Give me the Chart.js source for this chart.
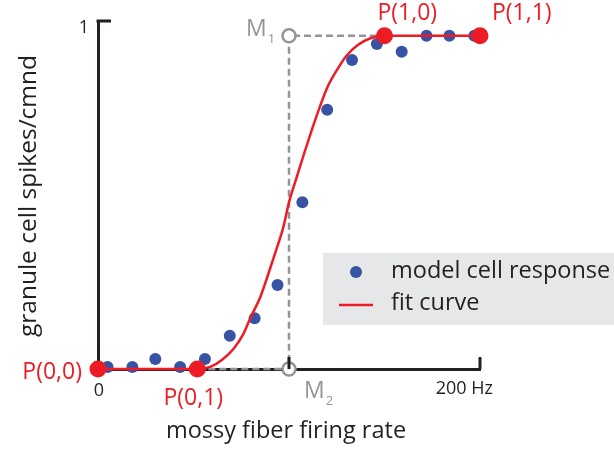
<!DOCTYPE html>
<html>
<head>
<meta charset="utf-8">
<script src="https://cdn.jsdelivr.net/npm/chart.js@4"></script>
<style>
  html, body { margin: 0; padding: 0; background: #ffffff; }
  #wrap { width: 614px; height: 451px; }
</style>
</head>
<body>
<div id="wrap"><canvas id="grafico" width="614" height="451"></canvas></div>
<script>
// dados (Hz, spikes/cmnd)
const rateHz = [5, 18, 30, 43, 56, 69, 82, 94, 107, 120, 133, 146, 159, 172, 184, 197];
const cellResponse = [0.006, 0.006, 0.03, 0.006, 0.03, 0.10, 0.152, 0.252, 0.50, 0.778, 0.927, 0.975, 0.952, 1, 1, 1];

const fitHz = [0, 52, 59, 65, 71, 76, 80, 85, 89, 93, 97, 100, 104, 108, 112, 116, 120, 125, 130, 136, 143, 150, 200];
const fitValue = [0, 0, 0.007, 0.028, 0.061, 0.104, 0.156, 0.216, 0.282, 0.352, 0.425, 0.5, 0.575, 0.648, 0.718, 0.784, 0.844, 0.896, 0.939, 0.972, 0.993, 1, 1];

const ctrlHz = [0, 52, 150, 200];
const ctrlValue = [0, 0, 1, 1];
const ctrlLabels = ["P(0,0)", "P(0,1)", "P(1,0)", "P(1,1)"];

const guideHz = [52, 100, 100, 150];
const guideValue = [0, 0, 1, 1];

const markHz = [100, 100];
const markValue = [1, 0];
const markLabels = ["M", "M"];
const markSubs = ["1", "2"];

const xTickValues = [0, 200];
const xTickLabels = ["0", "200 Hz"];
const xInnerTicks = [100, 200];
const yTickLabels = ["1"];
const yMax = 1.044;

const seriesNames = ["model cell response", "fit curve"];
const xTitle = "mossy fiber firing rate";
const yTitle = "granule cell spikes/cmnd";

const RED = "#ed1c24";
const BLUE = "#3953a4";
const GRAY = "#939598";
const INK = "#231f20";
const FONT = "'Open Sans', sans-serif";

const pts = (xs, ys) => xs.map((x, i) => ({ x: x, y: ys[i] }));

// desenha rótulos, ticks internos, títulos e a legenda
const decor = {
  id: "decor",
  afterDraw(chart) {
    const ctx = chart.ctx;
    const xs = chart.scales.x;
    const ys = chart.scales.y;
    ctx.save();

    // ticks internos
    ctx.strokeStyle = INK;
    ctx.lineWidth = 3;
    ctx.beginPath();
    xInnerTicks.forEach((v) => {
      const px = xs.getPixelForValue(v);
      ctx.moveTo(px, ys.bottom);
      ctx.lineTo(px, ys.bottom - 12);
    });
    ctx.moveTo(xs.left - 1.5, ys.top);
    ctx.lineTo(xs.left + 13, ys.top);
    ctx.stroke();

    // rótulos dos ticks
    ctx.fillStyle = INK;
    ctx.font = "18px " + FONT;
    ctx.textBaseline = "middle";
    ctx.textAlign = "center";
    ctx.fillText(xTickLabels[0], xs.getPixelForValue(xTickValues[0]) + 1, ys.bottom + 22);
    ctx.textAlign = "right";
    ctx.fillText(xTickLabels[1], xs.getPixelForValue(xTickValues[1]) + 13, ys.bottom + 20);
    ctx.fillText(yTickLabels[0], xs.left - 9, ys.top + 7);

    // títulos dos eixos
    ctx.font = "23.5px " + FONT;
    ctx.textAlign = "center";
    ctx.fillText(xTitle, 286, 431);
    ctx.save();
    ctx.translate(29, 196);
    ctx.rotate(-Math.PI / 2);
    ctx.font = "24.5px " + FONT;
    ctx.fillText(yTitle, 0, 0);
    ctx.restore();

    // rótulos P(i,j)
    const metaP = chart.getDatasetMeta(0);
    const pOff = [[-16, 3, "right"], [-4, 29, "center"], [-7, -22, "left"], [12, -22, "left"]];
    ctx.fillStyle = RED;
    ctx.font = "23px " + FONT;
    metaP.data.forEach((el, i) => {
      ctx.textAlign = pOff[i][2];
      ctx.fillText(ctrlLabels[i], el.x + pOff[i][0], el.y + pOff[i][1]);
    });

    // rótulos M
    const metaM = chart.getDatasetMeta(1);
    const mOff = [[-43, -6], [15, 22]];
    ctx.fillStyle = GRAY;
    metaM.data.forEach((el, i) => {
      ctx.textAlign = "left";
      ctx.font = "23px " + FONT;
      const mx = el.x + mOff[i][0];
      const my = el.y + mOff[i][1];
      ctx.fillText(markLabels[i], mx, my);
      const w = ctx.measureText(markLabels[i]).width;
      ctx.font = "13px " + FONT;
      ctx.fillText(markSubs[i], mx + w + 1, my + 10);
    });

    // legenda
    ctx.fillStyle = "#e6e7e8";
    ctx.fillRect(323, 253, 291, 72);
    ctx.fillStyle = BLUE;
    ctx.beginPath();
    ctx.arc(356, 272, 6, 0, Math.PI * 2);
    ctx.fill();
    ctx.strokeStyle = RED;
    ctx.lineWidth = 2.5;
    ctx.beginPath();
    ctx.moveTo(339, 305);
    ctx.lineTo(373, 305);
    ctx.stroke();
    ctx.fillStyle = INK;
    ctx.font = "23.5px " + FONT;
    ctx.textAlign = "left";
    ctx.fillText(seriesNames[0], 391, 271);
    ctx.fillText(seriesNames[1], 391, 303);

    ctx.restore();
  },
};

const ctx = document.getElementById("grafico");

const chart = new Chart(ctx, {
  type: "scatter",
  data: {
    datasets: [
      {
        label: "control points",
        data: pts(ctrlHz, ctrlValue),
        pointRadius: 8.5,
        pointBackgroundColor: RED,
        pointBorderWidth: 0,
        showLine: false,
        clip: false,
        order: 0,
      },
      {
        label: "M",
        data: pts(markHz, markValue),
        pointRadius: 6.5,
        pointBackgroundColor: "#ffffff",
        pointBorderColor: GRAY,
        pointBorderWidth: 2.5,
        showLine: false,
        clip: false,
        order: 1,
      },
      {
        label: seriesNames[1],
        type: "line",
        data: pts(fitHz, fitValue),
        borderColor: RED,
        borderWidth: 2.5,
        pointRadius: 0,
        cubicInterpolationMode: "monotone",
        fill: false,
        clip: false,
        order: 2,
      },
      {
        label: seriesNames[0],
        data: pts(rateHz, cellResponse),
        pointRadius: 6,
        pointBackgroundColor: BLUE,
        pointBorderWidth: 0,
        showLine: false,
        clip: false,
        order: 3,
      },
      {
        label: "guide",
        type: "line",
        data: pts(guideHz, guideValue),
        borderColor: GRAY,
        borderWidth: 2.5,
        borderDash: [7, 4],
        pointRadius: 0,
        tension: 0,
        fill: false,
        clip: false,
        order: 4,
      },
    ],
  },
  options: {
    responsive: false,
    animation: false,
    layout: { padding: { left: 0, top: 21, right: 134, bottom: 0 } },
    plugins: { legend: { display: false }, tooltip: { enabled: false } },
    scales: {
      x: {
        type: "linear",
        min: 0,
        max: 200,
        grid: { display: false, drawTicks: false },
        border: { display: true, color: INK, width: 3 },
        ticks: { display: false },
        afterFit: (s) => { s.height = 82; },
      },
      y: {
        type: "linear",
        min: 0,
        max: yMax,
        grid: { display: false, drawTicks: false },
        border: { display: true, color: INK, width: 3 },
        ticks: { display: false },
        afterFit: (s) => { s.width = 98; },
      },
    },
  },
  plugins: [decor],
});
</script>
</body>
</html>
